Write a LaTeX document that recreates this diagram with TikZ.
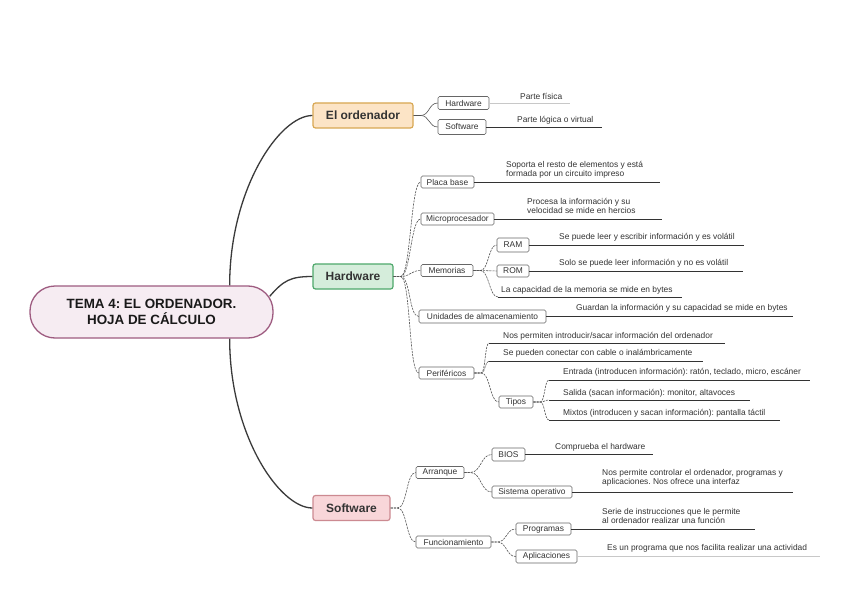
\documentclass[tikz,border=0pt]{standalone}
\usepackage{fontspec}
\setmainfont{Liberation Sans}
\usetikzlibrary{calc}
\frenchspacing
\definecolor{txt}{HTML}{333333}
\definecolor{mainfill}{HTML}{F6ECF2}
\definecolor{mainline}{HTML}{9E5B80}
\definecolor{eofill}{HTML}{FCE4C6}
\definecolor{eoline}{HTML}{D8A752}
\definecolor{hwfill}{HTML}{D5EDDB}
\definecolor{hwline}{HTML}{4EA86B}
\definecolor{swfill}{HTML}{F8D6D9}
\definecolor{swline}{HTML}{CC8A91}
\definecolor{mlc}{HTML}{3A3A3A}
\definecolor{blc}{HTML}{555555}
\definecolor{boxline}{HTML}{666666}
\definecolor{faint}{HTML}{C8C8C8}
\begin{document}
\begin{tikzpicture}[x=1pt,y=-1pt,
  topic/.style={draw, line width=1.2pt, rounded corners=2.5pt, font=\fontsize{12}{13}\selectfont\bfseries, text=txt, inner sep=0pt, minimum height=25pt},
  sbox/.style={draw=boxline, line width=0.6pt, rounded corners=1.5pt, fill=white, font=\fontsize{8.4}{9}\selectfont, text=txt, inner sep=0pt},
  leaf/.style={font=\fontsize{8.4}{9.4}\selectfont, text=txt, inner sep=0pt, anchor=west, align=left},
  mainconn/.style={draw=mlc, line width=1.3pt},
  solidconn/.style={draw=blc, line width=0.6pt},
  dashconn/.style={draw=blc, line width=0.6pt, dash pattern=on 2.2pt off 1pt},
  leafline/.style={draw=txt, line width=0.7pt},
  faintline/.style={draw=faint, line width=0.7pt}
]
\useasboundingbox (0,0) rectangle (848,599);
\fill[white] (0,0) rectangle (848,599);

% main and topics
\node[draw=mainline, fill=mainfill, line width=1.3pt, rounded corners=25pt, minimum width=243pt, minimum height=52pt, inner sep=0pt, align=center, text=black!90, font=\fontsize{13.4}{16}\selectfont\bfseries] (main) at (151.5,312) {TEMA 4: EL ORDENADOR.\\HOJA DE CÁLCULO};
\node[topic, fill=eofill, draw=eoline, minimum width=100pt] (eo) at (363,115.5) {El ordenador};
\node[topic, fill=hwfill, draw=hwline, minimum width=80pt] (hw) at (353,276.5) {Hardware};
\node[topic, fill=swfill, draw=swline, minimum width=77pt] (sw) at (351.5,508) {Software};

\draw[mainconn] ([xshift=-44pt]main.north east) .. controls +(0,-96) and +(-33,0) .. (eo.west);
\draw[mainconn] ([xshift=-44pt]main.south east) .. controls +(0,96) and +(-33,0) .. (sw.west);
\draw[mainconn] ([xshift=-4pt,yshift=-11pt]main.north east) .. controls +(14,-16) and +(-22,0) .. (hw.west);

% El ordenador
\node[sbox, minimum width=51pt, minimum height=13pt] (eohw) at (463.5,103) {Hardware};
\node[sbox, minimum width=48pt, minimum height=15pt] (eosw) at (462,127) {Software};
\draw[solidconn] (eo.east) -- ++(7,0) .. controls +(9,0) and +(-9,0) .. (eohw.west);
\draw[solidconn] (eo.east) -- ++(7,0) .. controls +(9,0) and +(-9,0) .. (eosw.west);
\coordinate (eohwE) at (570,103);
\coordinate (eoswE) at (602,127);
\draw[faintline] (eohw.east) -- (eohwE);
\draw[leafline] (eosw.east) -- (eoswE);
\node[leaf] (teohw) at (520,96) {Parte física};
\node[leaf] (teosw) at (517,120) {Parte lógica o virtual};

% Hardware
\node[sbox, minimum width=53pt, minimum height=12pt] (pb) at (447.5,182) {Placa base};
\node[sbox, minimum width=73pt, minimum height=12pt] (mp) at (457.5,219) {Microprocesador};
\node[sbox, minimum width=52pt, minimum height=12pt] (mem) at (447,270.5) {Memorias};
\node[sbox, minimum width=127pt, minimum height=13pt] (ua) at (482.5,316.5) {Unidades de almacenamiento};
\node[sbox, minimum width=55pt, minimum height=12pt] (per) at (446.5,373) {Periféricos};
\foreach \c in {pb,mp,mem,ua,per}
  \draw[dashconn] (hw.east) -- ++(7,0) .. controls +(10,0) and +(-10,0) .. (\c.west);

\coordinate (pbE) at (660,182);
\coordinate (mpE) at (662,219);
\coordinate (uaE) at (793,316.5);
\draw[leafline] (pb.east) -- (pbE);
\draw[leafline] (mp.east) -- (mpE);
\draw[leafline] (ua.east) -- (uaE);
\node[leaf] (tpb) at (506,169.5) {Soporta el resto de elementos y está\\formada por un circuito impreso};
\node[leaf] (tmp) at (527,206) {Procesa la información y su\\velocidad se mide en hercios};
\node[leaf] (tua) at (576,308) {Guardan la información y su capacidad se mide en bytes};

% Memorias
\node[sbox, minimum width=32pt, minimum height=14pt] (ram) at (513,245) {RAM};
\node[sbox, minimum width=32pt, minimum height=12pt] (rom) at (513,271) {ROM};
\coordinate (memL) at (498,297);
\draw[dashconn] (mem.east) -- ++(7,0) .. controls +(8.5,0) and +(-8.5,0) .. (ram.west);
\draw[dashconn] (mem.east) -- ++(7,0) .. controls +(8.5,0) and +(-8.5,0) .. (rom.west);
\draw[dashconn] (mem.east) -- ++(7,0) .. controls +(9,0) and +(-9,0) .. (memL);
\coordinate (ramE) at (744,245);
\coordinate (romE) at (743,271);
\coordinate (memE) at (682,297);
\draw[leafline] (ram.east) -- (ramE);
\draw[leafline] (rom.east) -- (romE);
\draw[leafline] (memL) -- (memE);
\node[leaf] (tram) at (559,237) {Se puede leer y escribir información y es volátil};
\node[leaf] (trom) at (559,263) {Solo se puede leer información y no es volátil};
\node[leaf] (tmem) at (501,290) {La capacidad de la memoria se mide en bytes};

% Perifericos
\node[sbox, minimum width=34pt, minimum height=12pt] (tip) at (516,402) {Tipos};
\coordinate (perL1) at (489,343);
\coordinate (perL2) at (489,361);
\draw[dashconn] (per.east) -- ++(7,0) .. controls +(4,0) and +(-4,0) .. (perL1);
\draw[dashconn] (per.east) -- ++(7,0) .. controls +(4,0) and +(-4,0) .. (perL2);
\draw[dashconn] (per.east) -- ++(7,0) .. controls +(9,0) and +(-9,0) .. (tip.west);
\coordinate (perE1) at (725,343);
\coordinate (perE2) at (703,361);
\draw[leafline] (perL1) -- (perE1);
\draw[leafline] (perL2) -- (perE2);
\node[leaf] (tper1) at (503,336) {Nos permiten introducir/sacar información del ordenador};
\node[leaf] (tper2) at (503,353) {Se pueden conectar con cable o inalámbricamente};

\coordinate (tipL1) at (549,380);
\coordinate (tipL2) at (549,400);
\coordinate (tipL3) at (549,420);
\foreach \c in {tipL1,tipL2,tipL3}
  \draw[dashconn] (tip.east) -- ++(7,0) .. controls +(4.5,0) and +(-4.5,0) .. (\c);
\coordinate (tipE1) at (810,380);
\coordinate (tipE2) at (750,400);
\coordinate (tipE3) at (780,420);
\draw[leafline] (tipL1) -- (tipE1);
\draw[leafline] (tipL2) -- (tipE2);
\draw[leafline] (tipL3) -- (tipE3);
\node[leaf] (ttip1) at (563,372) {Entrada (introducen información): ratón, teclado, micro, escáner};
\node[leaf] (ttip2) at (563,393) {Salida (sacan información): monitor, altavoces};
\node[leaf] (ttip3) at (563,413) {Mixtos (introducen y sacan información): pantalla táctil};

% Software
\node[sbox, minimum width=48pt, minimum height=12pt] (arr) at (440,472.5) {Arranque};
\node[sbox, minimum width=75pt, minimum height=12pt] (fun) at (453.5,542) {Funcionamiento};
\draw[dashconn] (sw.east) -- ++(7,0) .. controls +(9.5,0) and +(-9.5,0) .. (arr.west);
\draw[dashconn] (sw.east) -- ++(7,0) .. controls +(9.5,0) and +(-9.5,0) .. (fun.west);

\node[sbox, minimum width=33pt, minimum height=13pt] (bios) at (508.5,454.5) {BIOS};
\node[sbox, minimum width=80pt, minimum height=12pt] (so) at (532,492) {Sistema operativo};
\draw[dashconn] (arr.east) -- ++(6,0) .. controls +(11,0) and +(-11,0) .. (bios.west);
\draw[dashconn] (arr.east) -- ++(6,0) .. controls +(11,0) and +(-11,0) .. (so.west);
\coordinate (biosE) at (653,454.5);
\coordinate (soE) at (793,492);
\draw[leafline] (bios.east) -- (biosE);
\draw[leafline] (so.east) -- (soE);
\node[leaf] (tbios) at (555,447) {Comprueba el hardware};
\node[leaf] (tso) at (602,478) {Nos permite controlar el ordenador, programas y\\aplicaciones. Nos ofrece una interfaz};

\node[sbox, minimum width=55pt, minimum height=12pt] (prog) at (543.5,529) {Programas};
\node[sbox, minimum width=61pt, minimum height=13pt] (apl) at (546.5,556.5) {Aplicaciones};
\draw[dashconn] (fun.east) -- ++(6,0) .. controls +(9.5,0) and +(-9.5,0) .. (prog.west);
\draw[dashconn] (fun.east) -- ++(6,0) .. controls +(9.5,0) and +(-9.5,0) .. (apl.west);
\coordinate (progE) at (755,529);
\coordinate (aplE) at (820,556.5);
\draw[leafline] (prog.east) -- (progE);
\draw[faintline] (apl.east) -- (aplE);
\node[leaf] (tprog) at (602,516) {Serie de instrucciones que le permite\\al ordenador realizar una función};
\node[leaf] (tapl) at (607,548) {Es un programa que nos facilita realizar una actividad};
\end{tikzpicture}
\end{document}
